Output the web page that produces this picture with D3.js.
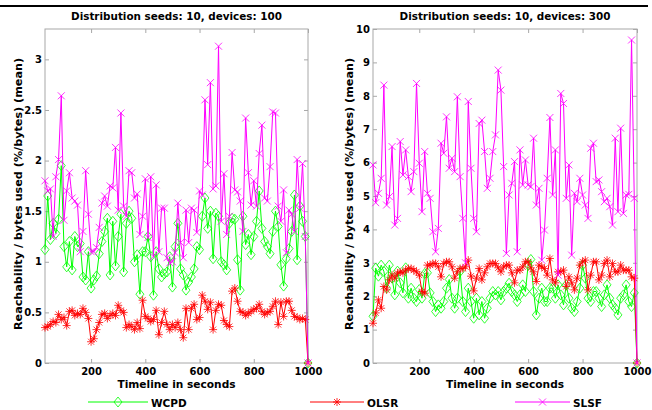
<!DOCTYPE html>
<html>
<head>
<meta charset="utf-8">
<script src="https://cdn.jsdelivr.net/npm/d3@7"></script>
<style>
  body { margin: 0; background: #fff; }
  text { font-family: "DejaVu Sans", sans-serif; font-weight: bold; fill: #000; }
</style>
</head>
<body>
<div id="container"></div>
<script>
/* CONSTANTS AND GLOBALS */
const width = 652,
  height = 410,
  plotTop = 29,
  plotBottom = 363;

/* DATA */
// sample times (s)
const seconds = [30,40,50,60,70,80,90,100,110,120,130,140,150,160,170,180,190,200,210,220,
  230,240,250,260,270,280,290,300,310,320,330,340,350,360,370,380,390,400,410,420,
  430,440,450,460,470,480,490,500,510,520,530,540,550,560,570,580,590,600,610,620,
  630,640,650,660,670,680,690,700,710,720,730,740,750,760,770,780,790,800,810,820,
  830,840,850,860,870,880,890,900,910,920,930,940,950,960,970,980,990,1000];

const seriesNames = ["WCPD", "OLSR", "SLSF"];
const xTicks = [200, 400, 600, 800, 1000];
const yTicks100 = [0, 0.5, 1, 1.5, 2, 2.5, 3];
const yTicks300 = [0, 1, 2, 3, 4, 5, 6, 7, 8, 9, 10];

// devices: 100
const wcpd100 = [1.12,1.65,1.22,1.38,1.28,1.42,1.95,1.15,0.95,1.20,
  0.92,1.25,1.15,1.18,0.85,0.82,1.10,0.74,0.82,0.86,
  1.08,1.20,1.30,1.43,0.87,1.40,0.96,1.25,1.47,0.90,
  1.38,1.50,1.43,1.00,1.07,0.68,1.10,1.10,1.25,1.05,
  0.67,1.10,0.93,0.85,0.88,0.90,1.05,0.75,1.15,1.38,
  0.93,0.87,0.72,0.80,0.85,0.93,1.15,1.12,1.45,1.63,
  1.33,1.50,1.03,1.48,1.45,1.00,0.97,0.92,1.38,1.43,
  1.42,1.02,0.72,1.45,1.17,1.27,1.07,1.25,1.40,1.70,
  1.33,1.20,1.15,1.08,1.30,1.50,1.35,0.97,0.76,1.03,
  1.13,1.30,1.66,1.02,1.55,1.40,1.25,0];
const olsr100 = [0.35,0.36,0.38,0.41,0.40,0.48,0.43,0.45,0.37,0.51,
  0.52,0.47,0.49,0.48,0.54,0.50,0.44,0.21,0.24,0.33,
  0.40,0.48,0.49,0.44,0.47,0.49,0.47,0.57,0.52,0.50,
  0.35,0.38,0.36,0.33,0.40,0.34,0.62,0.46,0.44,0.41,
  0.43,0.52,0.28,0.40,0.51,0.38,0.33,0.38,0.35,0.40,
  0.33,0.25,0.54,0.33,0.54,0.58,0.43,0.45,0.67,0.61,
  0.53,0.60,0.33,0.52,0.58,0.57,0.42,0.38,0.36,0.71,
  0.74,0.61,0.51,0.50,0.47,0.49,0.51,0.53,0.54,0.58,
  0.51,0.48,0.50,0.51,0.56,0.61,0.38,0.60,0.46,0.61,
  0.61,0.52,0.46,0.45,0.43,0.44,0.43,0];
const slsf100 = [1.80,1.70,1.72,1.25,1.84,2.01,2.64,1.41,1.70,1.88,
  1.63,1.60,1.56,1.10,1.30,1.90,1.47,1.10,1.10,1.14,
  1.34,1.58,1.65,1.55,1.75,1.73,2.13,1.51,2.47,1.55,
  1.45,1.90,1.88,1.63,1.67,1.27,1.45,1.82,1.24,1.84,
  1.05,1.76,1.10,1.53,1.53,1.04,0.99,1.00,1.09,1.58,
  1.19,1.04,1.51,1.19,1.53,1.51,1.29,1.70,1.66,2.60,
  1.96,2.77,1.72,1.75,3.13,1.40,1.87,1.27,1.45,2.08,
  1.71,1.69,1.60,1.30,2.42,1.88,1.56,1.80,1.55,2.07,
  2.35,1.63,1.60,1.94,2.48,2.47,1.55,1.40,1.71,1.09,
  1.51,1.47,1.30,2.01,1.53,1.97,1.25,0];

// devices: 300
const wcpd300 = [1.40,2.84,2.60,2.93,2.74,2.24,2.93,2.54,2.04,2.75,
  2.40,2.10,2.85,1.94,2.24,1.94,1.84,2.20,1.94,2.68,
  2.70,2.10,1.84,1.54,1.74,1.64,1.84,2.24,2.50,1.94,
  1.64,1.94,2.74,1.84,1.54,2.24,1.84,1.34,1.94,1.44,
  1.84,1.34,1.64,1.94,2.14,2.04,2.14,1.89,2.14,2.24,
  2.39,2.14,2.04,1.84,2.04,2.34,2.14,2.93,3.10,2.14,
  1.44,1.94,2.24,1.84,1.84,2.24,2.24,1.94,2.34,2.04,
  1.74,2.34,1.94,1.64,1.54,1.84,2.24,2.93,2.54,1.94,
  1.84,2.14,2.14,1.94,1.69,2.04,2.34,1.94,1.74,1.64,
  1.44,1.94,2.04,2.34,1.84,1.69,2.10,0];
const olsr300 = [1.19,1.50,1.89,1.64,2.29,2.19,2.49,2.63,2.54,2.69,
  2.73,2.70,2.78,2.83,2.83,2.78,2.73,2.63,2.14,2.09,
  2.93,2.93,2.98,2.98,2.88,2.58,2.98,3.03,3.03,2.88,
  2.54,2.73,2.83,2.83,2.88,3.08,2.60,2.16,2.54,2.83,
  2.49,2.70,2.88,2.98,2.98,2.98,2.85,2.73,2.88,2.93,
  2.93,2.70,2.40,2.78,2.78,2.88,3.03,3.03,2.85,2.73,
  2.44,2.93,2.88,2.83,2.63,3.13,2.49,2.40,2.73,2.73,
  2.78,2.29,2.58,2.40,2.19,2.54,2.93,3.03,3.08,2.19,
  2.63,3.03,3.03,2.49,2.63,2.98,3.08,2.58,2.98,2.73,
  2.73,2.93,2.78,2.78,2.78,2.58,2.54,0];
const slsf300 = [5.93,4.80,5.08,5.53,8.32,4.73,4.98,6.48,4.13,4.33,
  6.63,5.63,6.38,5.58,5.13,5.73,8.37,5.98,4.53,6.33,
  5.08,4.93,3.93,3.33,4.03,6.58,6.28,7.37,5.83,6.13,
  5.73,7.97,5.58,4.33,3.00,7.83,5.83,4.33,3.93,7.17,
  7.27,6.33,5.23,5.53,6.33,6.83,8.77,8.17,5.88,3.28,
  5.03,5.38,6.03,3.33,6.38,5.33,6.08,5.33,5.28,6.73,
  4.73,5.23,3.08,3.98,5.53,7.35,5.03,6.38,2.63,8.07,
  7.77,4.93,5.93,3.23,5.08,4.83,5.53,5.03,4.73,4.33,
  6.43,6.58,5.43,5.48,5.13,4.83,4.93,4.68,4.13,6.73,
  4.53,7.03,4.48,5.03,5.05,9.67,4.93,0];

/* STYLE */
const colors = ["#00ff00", "#ff0000", "#ff00ff"];
const frameColor = "#a8a8a8";

// marker paths, centred on 0,0
const markers = [
  "M0,-5L4,0L0,5L-4,0Z",                                         // diamond
  "M-4,0L4,0M0,-4L0,4M-3,-3L3,3M-3,3L3,-3",                      // asterisk
  "M-3.5,-3.5L3.5,3.5M-3.5,3.5L3.5,-3.5"                         // cross
];

const svg = d3.select("#container")
  .append("svg")
  .attr("width", width)
  .attr("height", height);

// top rule
svg.append("rect")
  .attr("x", 0).attr("y", 5)
  .attr("width", 648).attr("height", 2)
  .attr("fill", "#000");

const panels = [
  { title: "Distribution seeds: 10, devices: 100", left: 45, right: 308, yMax: 3.3,
    yTicks: yTicks100, labelX: 18, data: [wcpd100, olsr100, slsf100] },
  { title: "Distribution seeds: 10, devices: 300", left: 373, right: 637, yMax: 10,
    yTicks: yTicks300, labelX: 349, data: [wcpd300, olsr300, slsf300] }
];

panels.forEach(p => drawPanel(p));
drawLegend();

function drawPanel(p) {
  const xScale = d3.scaleLinear().domain([30, 1000]).range([p.left, p.right]);
  const yScale = d3.scaleLinear().domain([0, p.yMax]).range([plotBottom, plotTop]);

  const g = svg.append("g");

  // frame
  g.append("rect")
    .attr("x", p.left).attr("y", plotTop)
    .attr("width", p.right - p.left).attr("height", plotBottom - plotTop)
    .attr("fill", "none").attr("stroke", frameColor).attr("stroke-width", 1);

  // axes with inward ticks
  const axB = g.append("g").attr("transform", `translate(0,${plotBottom})`)
    .call(d3.axisBottom(xScale).tickValues(xTicks).tickSizeInner(-4).tickSizeOuter(0).tickPadding(5)
      .tickFormat(d => String(d)));
  const axT = g.append("g").attr("transform", `translate(0,${plotTop})`)
    .call(d3.axisTop(xScale).tickValues(xTicks).tickSizeInner(-4).tickSizeOuter(0).tickFormat(""));
  const axL = g.append("g").attr("transform", `translate(${p.left},0)`)
    .call(d3.axisLeft(yScale).tickValues(p.yTicks).tickSizeInner(-4).tickSizeOuter(0).tickPadding(3)
      .tickFormat(d => String(d)));
  const axR = g.append("g").attr("transform", `translate(${p.right},0)`)
    .call(d3.axisRight(yScale).tickValues(p.yTicks).tickSizeInner(-4).tickSizeOuter(0).tickFormat(""));

  [axB, axT, axL, axR].forEach(a => {
    a.attr("font-family", null).attr("font-size", null);
    a.select(".domain").remove();
    a.selectAll(".tick line").attr("stroke", frameColor);
    a.selectAll("text").attr("font-size", 10).attr("fill", "#000");
  });

  // series lines + markers
  const clip = "clip" + p.left;
  g.append("clipPath").attr("id", clip)
    .append("rect").attr("x", p.left - 6).attr("y", plotTop)
    .attr("width", p.right - p.left + 12).attr("height", plotBottom - plotTop + 6);

  const plot = g.append("g").attr("clip-path", `url(#${clip})`);

  p.data.forEach((vals, i) => {
    const pts = seconds.map((t, j) => [t, vals[j]]);
    const line = d3.line().x(d => xScale(d[0])).y(d => yScale(d[1]));

    plot.append("path")
      .datum(pts)
      .attr("d", line)
      .attr("fill", "none")
      .attr("stroke", colors[i])
      .attr("stroke-width", 1);

    plot.selectAll(null)
      .data(pts)
      .join("path")
      .attr("transform", d => `translate(${xScale(d[0])},${yScale(d[1])})`)
      .attr("d", markers[i])
      .attr("fill", "none")
      .attr("stroke", colors[i])
      .attr("stroke-width", 0.8);
  });

  // title
  g.append("text")
    .attr("x", (p.left + p.right) / 2).attr("y", 20)
    .attr("text-anchor", "middle")
    .attr("font-size", 10.4)
    .text(p.title);

  // x label
  g.append("text")
    .attr("x", (p.left + p.right) / 2).attr("y", 388)
    .attr("text-anchor", "middle")
    .attr("font-size", 10.6)
    .text("Timeline in seconds");

  // y label
  g.append("text")
    .attr("transform", `translate(${p.labelX},194) rotate(-90)`)
    .attr("text-anchor", "middle")
    .attr("dominant-baseline", "central")
    .attr("font-size", 11.2)
    .text("Reachability / bytes used (%/bytes) (mean)");
}

function drawLegend() {
  const legendX = [[88, 148], [310, 364], [515, 570]];
  const ly = 402;
  const lg = svg.append("g");

  seriesNames.forEach((name, i) => {
    const [x0, x1] = legendX[i];
    lg.append("line")
      .attr("x1", x0).attr("x2", x1).attr("y1", ly).attr("y2", ly)
      .attr("stroke", colors[i]).attr("stroke-width", 1);
    lg.append("path")
      .attr("transform", `translate(${(x0 + x1) / 2},${ly})`)
      .attr("d", markers[i])
      .attr("fill", "none").attr("stroke", colors[i]).attr("stroke-width", 0.8);
    lg.append("text")
      .attr("x", x1 + 3).attr("y", ly + 5)
      .attr("font-size", 10.5)
      .text(name);
  });
}
</script>
</body>
</html>
